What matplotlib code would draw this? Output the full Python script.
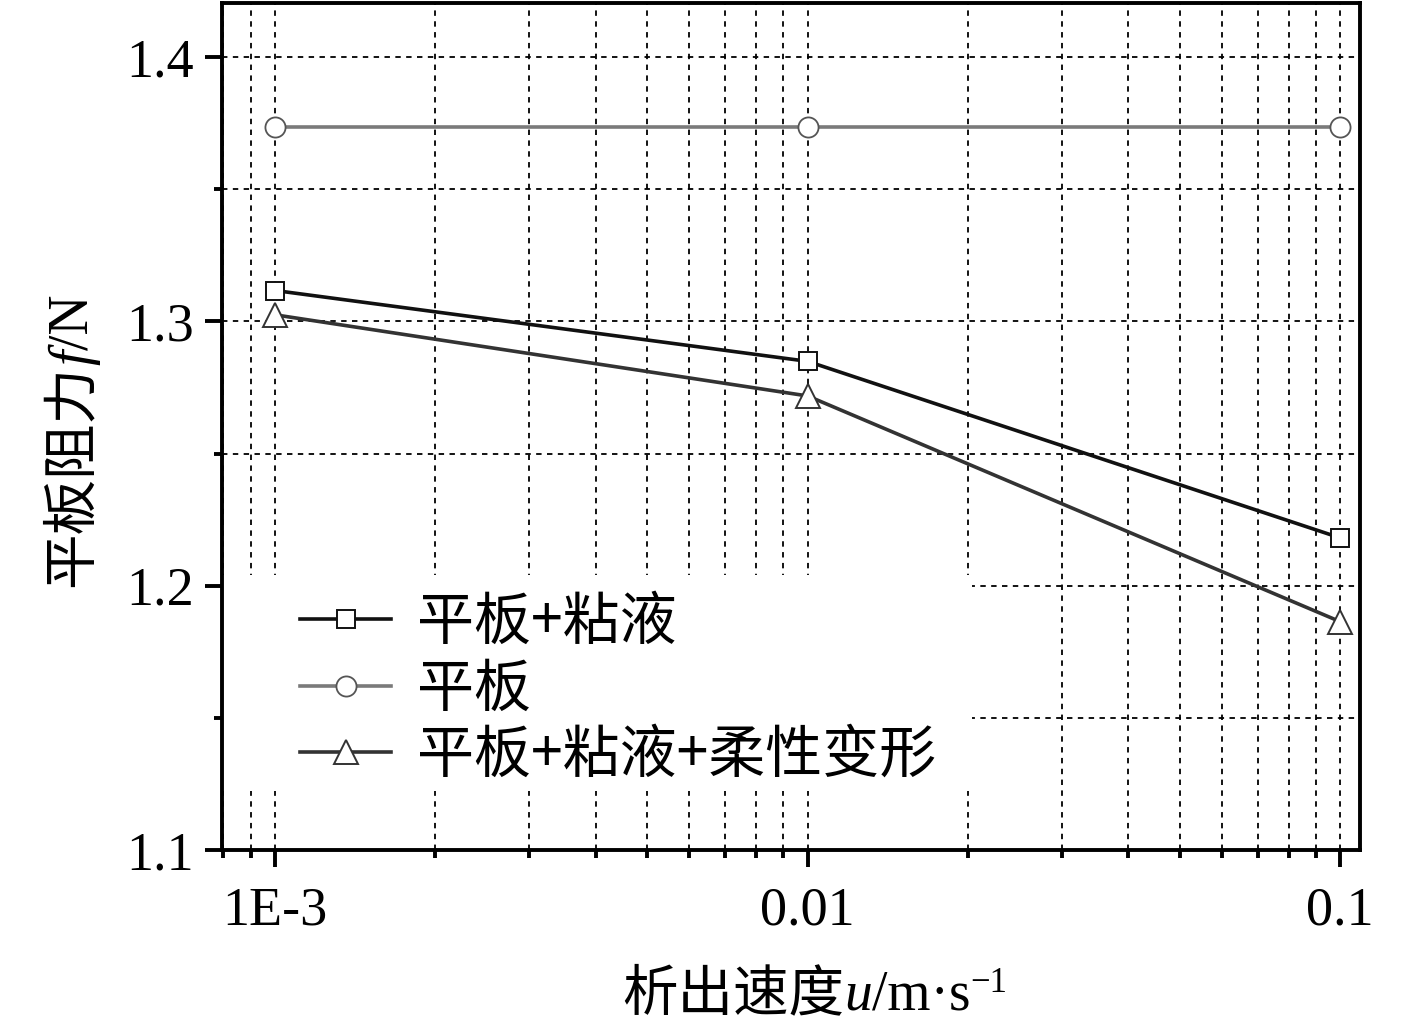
import matplotlib
matplotlib.use('Agg')
import matplotlib.pyplot as plt
from matplotlib.patches import Rectangle
from matplotlib.ticker import FixedLocator, FixedFormatter, MultipleLocator

plt.rcParams['font.family'] = ['Liberation Serif', 'Noto Sans CJK SC']

# data
speed = [0.001, 0.01, 0.1]
speed_labels = ['1E-3', '0.01', '0.1']
plate_mucus = [1.3117, 1.2849, 1.2181]
plate = [1.3735, 1.3735, 1.3735]
plate_mucus_flex = [1.3025, 1.2718, 1.1864]
names = ['平板+粘液', '平板', '平板+粘液+柔性变形']

CJK = {'family': 'Noto Sans CJK SC', 'fontsize': 40}
SER = {'family': 'Liberation Serif', 'fontsize': 40}
SER_IT = {'family': 'Liberation Serif', 'fontsize': 40, 'style': 'italic'}
SUP = {'family': 'Liberation Serif', 'fontsize': 25}


def place_pieces(fig, pieces, x, y, rotation=0):
    # draw text pieces one after another, centred on (x, y) along the baseline
    r = fig.canvas.get_renderer()
    W, H = fig.bbox.width, fig.bbox.height
    texts = []
    lengths = []
    for s, kw, dy in pieces:
        t = fig.text(0, 0, s, rotation=rotation, rotation_mode='anchor',
                     ha='left', va='baseline', **kw)
        bb = t.get_window_extent(r)
        lengths.append(bb.height if rotation else bb.width)
        texts.append((t, dy))
    cur = -sum(lengths) / 2
    for (t, dy), L in zip(texts, lengths):
        if rotation:
            t.set_position((x - dy / W, y + cur / H))
        else:
            t.set_position((x + cur / W, y + dy / H))
        cur += L


fig = plt.figure(figsize=(14.17, 10.32), dpi=100)
ax = fig.add_axes([0.1567, 0.1764, 0.8031, 0.8207])

ax.plot(speed, plate_mucus, color='#111111', lw=2.6, marker='s', ms=12.5,
        mfc='white', mec='#111111', mew=1.4, label=names[0], zorder=5)
ax.plot(speed, plate, color='#7a7a7a', lw=2.6, marker='o', ms=14.5,
        mfc='white', mec='#555555', mew=1.3, label=names[1], zorder=5)
ax.plot(speed, plate_mucus_flex, color='#333333', lw=2.6, marker='^', ms=17,
        mfc='white', mec='#333333', mew=1.4, label=names[2], zorder=5)

ax.set_xscale('log')
ax.set_xlim(7.95e-4, 0.109)
ax.set_ylim(1.1, 1.4205)

ax.xaxis.set_major_locator(FixedLocator(speed))
ax.xaxis.set_major_formatter(FixedFormatter(speed_labels))
ax.yaxis.set_major_locator(MultipleLocator(0.1))
ax.yaxis.set_minor_locator(MultipleLocator(0.05))
ax.yaxis.set_major_formatter(plt.FuncFormatter(lambda v, p: '%.1f' % v))

ax.grid(True, which='both', color='black', ls=(0, (3, 3)), lw=1.3)
ax.set_axisbelow(True)

# white area behind the legend hides the grid
ax.add_patch(Rectangle((0, 0.07), 0.659, 0.255, transform=ax.transAxes,
                       facecolor='white', edgecolor='none', zorder=1.5))

for s in ax.spines.values():
    s.set_linewidth(2.8)
ax.tick_params(which='major', direction='out', length=12, width=2.8,
               labelsize=39, pad=8)
ax.tick_params(which='minor', direction='out', length=6, width=2.8)
ax.tick_params(axis='x', which='major', pad=14)

leg = ax.legend(loc='upper left', bbox_to_anchor=(0.0685, 0.3026),
                frameon=False, prop={'family': 'Noto Sans CJK SC', 'size': 41},
                handlelength=1.6, handletextpad=0.45, labelspacing=0.14,
                borderpad=0.0, borderaxespad=0.0)

place_pieces(fig, [('析出速度', CJK, 0), ('u', SER_IT, 0), ('/m·s', SER, 0),
                   ('−1', SUP, 18)], 815 / 1417, 22 / 1032)
place_pieces(fig, [('平板阻力', CJK, 0), ('f', SER_IT, 0), ('/N', SER, 0)],
             88 / 1417, 1 - 441 / 1032, rotation=90)

fig.savefig('out.png', dpi=100)
